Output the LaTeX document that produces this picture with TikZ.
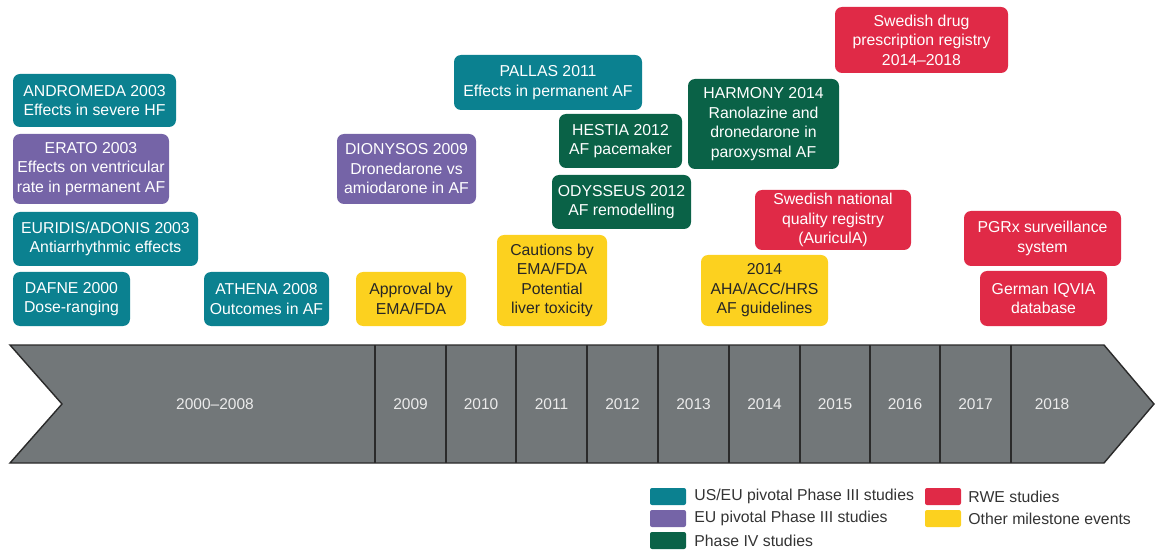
\documentclass[tikz,border=0pt]{standalone}
\usepackage{fontspec}
\setmainfont{Liberation Sans}
\usepackage{xcolor}
\usepackage{tikz}
\usetikzlibrary{positioning}

\definecolor{usteal}{HTML}{0B8190}
\definecolor{eupurple}{HTML}{7564A7}
\definecolor{phgreen}{HTML}{0A6247}
\definecolor{rwered}{HTML}{E02A47}
\definecolor{mileyellow}{HTML}{FCD11F}
\definecolor{axisgray}{HTML}{727779}
\definecolor{axisline}{HTML}{2A2A2A}

\tikzset{
  evbox/.style={rounded corners=7pt, align=center, inner sep=2pt, text=white,
    font=\fontsize{15.8}{19.5}\selectfont},
  usbox/.style={evbox, fill=usteal},
  eubox/.style={evbox, fill=eupurple},
  phbox/.style={evbox, fill=phgreen},
  rwebox/.style={evbox, fill=rwered},
  milebox/.style={evbox, fill=mileyellow, text=black!85},
  yearlbl/.style={text=white!92!black, inner sep=0pt, font=\fontsize{15.5}{18}\selectfont},
  swatch/.style={rounded corners=2pt, minimum width=36pt, minimum height=17pt, inner sep=0pt},
  legtxt/.style={inner sep=0pt, text=black!80, font=\fontsize{15.8}{18}\selectfont}
}

\begin{document}
\begin{tikzpicture}[x=1pt,y=-1pt]
                    \useasboundingbox (0,0) rectangle (1156,553);

                    % timeline arrow
                    \draw[fill=axisgray,draw=axisline,line width=1.4pt,line join=miter]
                      (10,345) -- (1104,345) -- (1154,404) -- (1104,463) -- (10,463) -- (62,404) -- cycle;
                    \foreach \xd in {375,446,516,587,658,729,800,870,940,1011}
                      \draw[draw=axisline,line width=1.4pt] (\xd,345) -- (\xd,463);

                    \node[yearlbl] (y0008) at (215,404) {2000–2008};
                    \node[yearlbl] (y2009) at (410.5,404) {2009};
                    \node[yearlbl] (y2010) at (481,404) {2010};
                    \node[yearlbl] (y2011) at (551.5,404) {2011};
                    \node[yearlbl] (y2012) at (622.5,404) {2012};
                    \node[yearlbl] (y2013) at (693.5,404) {2013};
                    \node[yearlbl] (y2014) at (764.5,404) {2014};
                    \node[yearlbl] (y2015) at (835,404) {2015};
                    \node[yearlbl] (y2016) at (905,404) {2016};
                    \node[yearlbl] (y2017) at (975.5,404) {2017};
                    \node[yearlbl] (y2018) at (1052,404) {2018};

                    % 2000--2008 studies
                    \node[usbox, minimum width=163pt, minimum height=53pt] (andromeda) at (94.5,100.5) {ANDROMEDA 2003\\Effects in severe HF};
                    \node[eubox, minimum width=156pt, minimum height=70pt] (erato) at (91,169) {ERATO 2003\\Effects on ventricular\\rate in permanent AF};
                    \node[usbox, minimum width=185pt, minimum height=54pt] (euridis) at (105.5,239) {EURIDIS/ADONIS 2003\\Antiarrhythmic effects};
                    \node[usbox, minimum width=117pt, minimum height=54pt] (dafne) at (71.5,299) {DAFNE 2000\\Dose-ranging};
                    \node[usbox, minimum width=125pt, minimum height=54pt] (athena) at (266.5,299) {ATHENA 2008\\Outcomes in AF};

                    % 2009--2012
                    \node[eubox, minimum width=139pt, minimum height=70pt] (dionysos) at (406.5,169) {DIONYSOS 2009\\Dronedarone vs\\amiodarone in AF};
                    \node[milebox, minimum width=110pt, minimum height=54pt] (approval) at (411,299) {Approval by\\EMA/FDA};
                    \node[usbox, minimum width=188pt, minimum height=55pt] (pallas) at (548,82.5) {PALLAS 2011\\Effects in permanent AF};
                    \node[phbox, minimum width=123pt, minimum height=54pt] (hestia) at (620.5,141) {HESTIA 2012\\AF pacemaker};
                    \node[phbox, minimum width=139pt, minimum height=54pt] (odysseus) at (621.5,202) {ODYSSEUS 2012\\AF remodelling};
                    \node[milebox, minimum width=110pt, minimum height=91pt] (cautions) at (552,280.5) {Cautions by\\EMA/FDA\\Potential\\liver toxicity};

                    % 2014--2018
                    \node[phbox, minimum width=151pt, minimum height=90pt] (harmony) at (763.5,124) {HARMONY 2014\\Ranolazine and\\dronedarone in\\paroxysmal AF};
                    \node[rwebox, minimum width=173pt, minimum height=66pt] (swdrug) at (921.5,40) {Swedish drug\\prescription registry\\2014–2018};
                    \node[rwebox, minimum width=156pt, minimum height=60pt] (swnat) at (833,220) {Swedish national\\quality registry\\(AuriculA)};
                    \node[milebox, minimum width=127pt, minimum height=71pt] (guidelines) at (764.5,290.5) {2014\\AHA/ACC/HRS\\AF guidelines};
                    \node[rwebox, minimum width=157pt, minimum height=55pt] (pgrx) at (1042.5,238.5) {PGRx surveillance\\system};
                    \node[rwebox, minimum width=127pt, minimum height=55pt] (iqvia) at (1043.5,298.5) {German IQVIA\\database};

                    % legend
                    \node[swatch, fill=usteal] (swUS) at (668,496.5) {};
                    \node[swatch, fill=eupurple] (swEU) at (668,518.5) {};
                    \node[swatch, fill=phgreen] (swPH) at (668,540.5) {};
                    \node[swatch, fill=rwered] (swRWE) at (943,496.5) {};
                    \node[swatch, fill=mileyellow] (swMS) at (943,518.5) {};
                    \node[legtxt, right=8pt of swUS] (lgUS) {US/EU pivotal Phase III studies};
                    \node[legtxt, right=8pt of swEU] (lgEU) {EU pivotal Phase III studies};
                    \node[legtxt, right=8pt of swPH] (lgPH) {Phase IV studies};
                    \node[legtxt, right=7pt of swRWE] (lgRWE) {RWE studies};
                    \node[legtxt, right=7pt of swMS] (lgMS) {Other milestone events};
                \end{tikzpicture}
\end{document}
